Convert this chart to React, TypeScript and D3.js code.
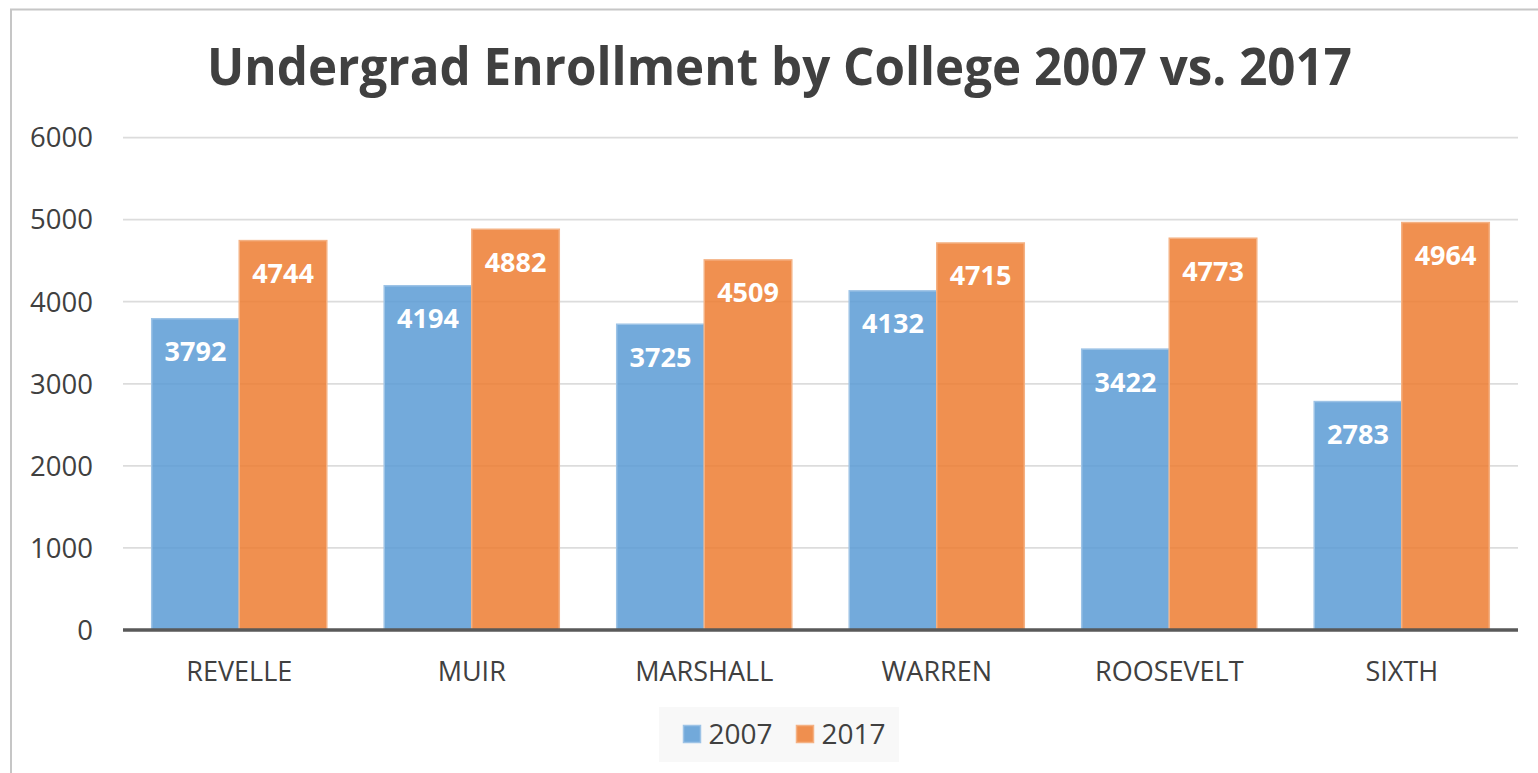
import * as d3 from "d3";

const categories = ["REVELLE", "MUIR", "MARSHALL", "WARREN", "ROOSEVELT", "SIXTH"];
const seriesNames = ["2007", "2017"];
const values2007 = [3792, 4194, 3725, 4132, 3422, 2783];
const values2017 = [4744, 4882, 4509, 4715, 4773, 4964];
const yTicks = [0, 1000, 2000, 3000, 4000, 5000, 6000];

const W = 1538;
const H = 773;
const font = "'Open Sans', 'Liberation Sans', sans-serif";
const fills = ["#5b9bd5", "#ed7d31"];
const strokes = ["#9dc3e6", "#f4b183"];

const App = () => {
  const plot = { left: 123, right: 1518, top: 137.5, bottom: 630 };

  const x = d3
    .scaleBand<string>()
    .domain(categories)
    .range([plot.left, plot.right])
    .paddingInner(0.247)
    .paddingOuter(0.1235);
  const xs = d3.scaleBand<string>().domain(seriesNames).range([0, x.bandwidth()]);
  const y = d3.scaleLinear().domain([0, 6000]).range([plot.bottom, plot.top]);

  const series = [values2007, values2017];

  return (
    <svg
      width={W}
      height={H}
      style={{ position: "absolute", left: 0, top: 0, display: "block", background: "#fff" }}
    >
      <rect x={11} y={9.5} width={1700} height={900} fill="#fff" stroke="#c6c6c6" strokeWidth={2} />

      <text
        x={779.5}
        y={85}
        textAnchor="middle"
        fontFamily={font}
        fontWeight="bold"
        fontSize={52}
        fill="#404040"
        textLength={1145}
        lengthAdjust="spacingAndGlyphs"
      >
        Undergrad Enrollment by College 2007 vs. 2017
      </text>

      {yTicks.map((t) => (
        <g key={t}>
          {t !== 0 && (
            <line x1={plot.left} x2={plot.right} y1={y(t)} y2={y(t)} stroke="#dcdcdc" strokeWidth={1.75} />
          )}
          <text
            x={93}
            y={y(t)}
            dy="0.36em"
            textAnchor="end"
            fontFamily={font}
            fontSize={27.5}
            fill="#404040"
          >
            {t}
          </text>
        </g>
      ))}

      {categories.map((c, i) => (
        <g key={c}>
          {series.map((vals, s) => {
            const bx = x(c)! + xs(seriesNames[s])!;
            const bw = xs.bandwidth();
            const top = y(vals[i]);
            return (
              <g key={s}>
                <rect
                  x={bx}
                  y={top}
                  width={bw}
                  height={plot.bottom - top}
                  fill={fills[s]}
                  fillOpacity={0.85}
                  stroke={strokes[s]}
                  strokeWidth={1.5}
                />
                <text
                  x={bx + bw / 2}
                  y={top + 42.5}
                  textAnchor="middle"
                  fontFamily={font}
                  fontWeight="bold"
                  fontSize={27}
                  fill="#ffffff"
                >
                  {vals[i]}
                </text>
              </g>
            );
          })}
          <text
            x={x(c)! + x.bandwidth() / 2}
            y={681}
            textAnchor="middle"
            fontFamily={font}
            fontSize={27}
            fill="#404040"
          >
            {c}
          </text>
        </g>
      ))}

      <line x1={plot.left} x2={plot.right} y1={plot.bottom} y2={plot.bottom} stroke="#595959" strokeWidth={3.5} />

      <rect x={659} y={707} width={240} height={55} fill="#f8f8f8" />
      {seriesNames.map((n, s) => {
        const lx = s === 0 ? 683.5 : 796.5;
        return (
          <g key={n}>
            <rect x={lx} y={725.5} width={17} height={17} fill={fills[s]} fillOpacity={0.85} stroke={strokes[s]} strokeWidth={1.5} />
            <text x={lx + 25} y={744} fontFamily={font} fontSize={28} fill="#404040">
              {n}
            </text>
          </g>
        );
      })}
    </svg>
  );
};

export default App;
